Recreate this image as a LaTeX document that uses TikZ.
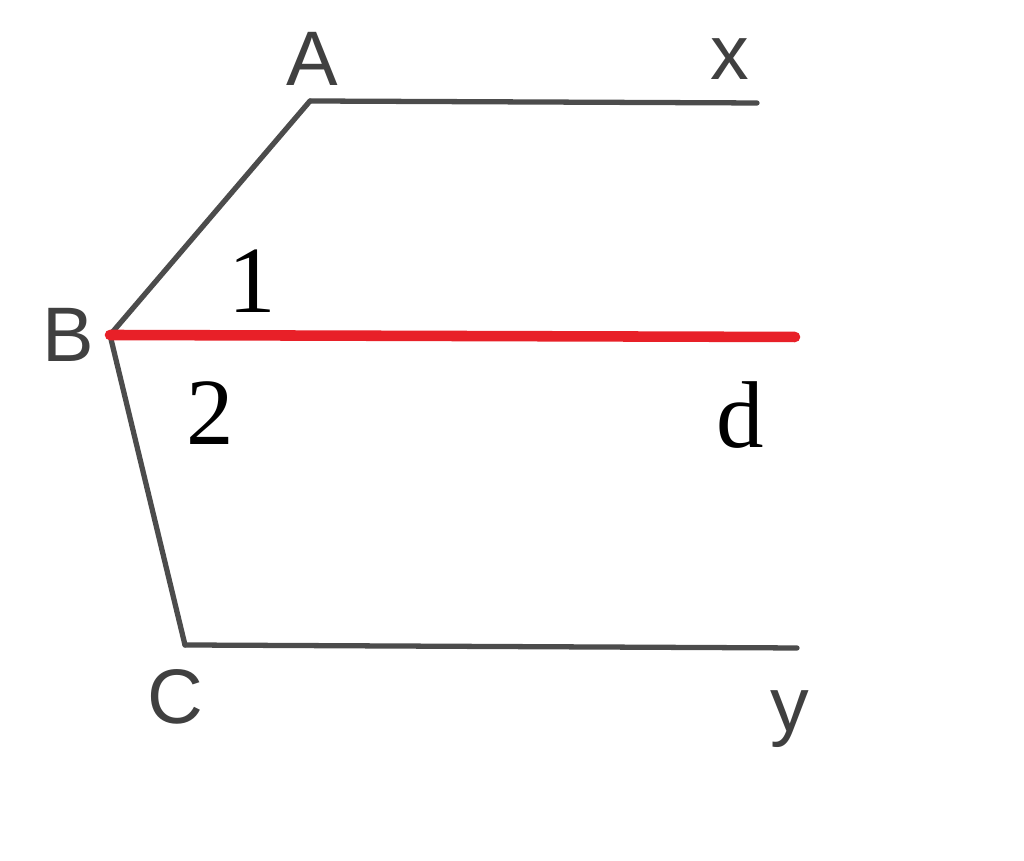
\documentclass[tikz,border=0pt]{standalone}
\usepackage{fontspec}
\setmainfont{Liberation Serif}
\newfontfamily\ptfont{Liberation Sans}
\usepackage{tikz}
\usetikzlibrary{positioning}
\definecolor{segred}{RGB}{232,32,40}

\begin{document}
\begin{tikzpicture}[line cap=round,line join=round,x=1cm,y=1cm,
	pt/.style={font=\ptfont\fontsize{22}{22}\selectfont,text=black!75},
	ang/.style={font=\fontsize{27}{27}\selectfont},
	side/.style={line width=1.5pt,color=black!70},scale=1.0]
\useasboundingbox (0,0) rectangle (10.24,8.61);

\coordinate (A) at (3.10,7.60);
\coordinate (X) at (7.57,7.58);
\coordinate (B) at (1.10,5.26);
\coordinate (D) at (7.95,5.24);
\coordinate (C) at (1.85,2.16);
\coordinate (Y) at (7.97,2.13);

\draw [side] (X)-- (A);
\draw [side] (A)-- (B);
\draw [side] (B)-- (C);
\draw [side] (C)-- (Y);
\draw [line width=3pt,color=segred] (B)-- (D);

\draw (3.12,8.02) node[pt] (lA) {A};
\draw (7.30,8.02) node[pt] (lX) {x};
\draw (0.68,5.26) node[pt] (lB) {B};
\draw (1.75,1.64) node[pt] (lC) {C};
\draw (7.90,1.42) node[pt] (lY) {y};
\draw (2.52,5.80) node[ang] (l1) {1};
\draw (2.10,4.48) node[ang] (l2) {2};
\draw (7.40,4.46) node[ang] (lD) {d};
\end{tikzpicture}
\end{document}
